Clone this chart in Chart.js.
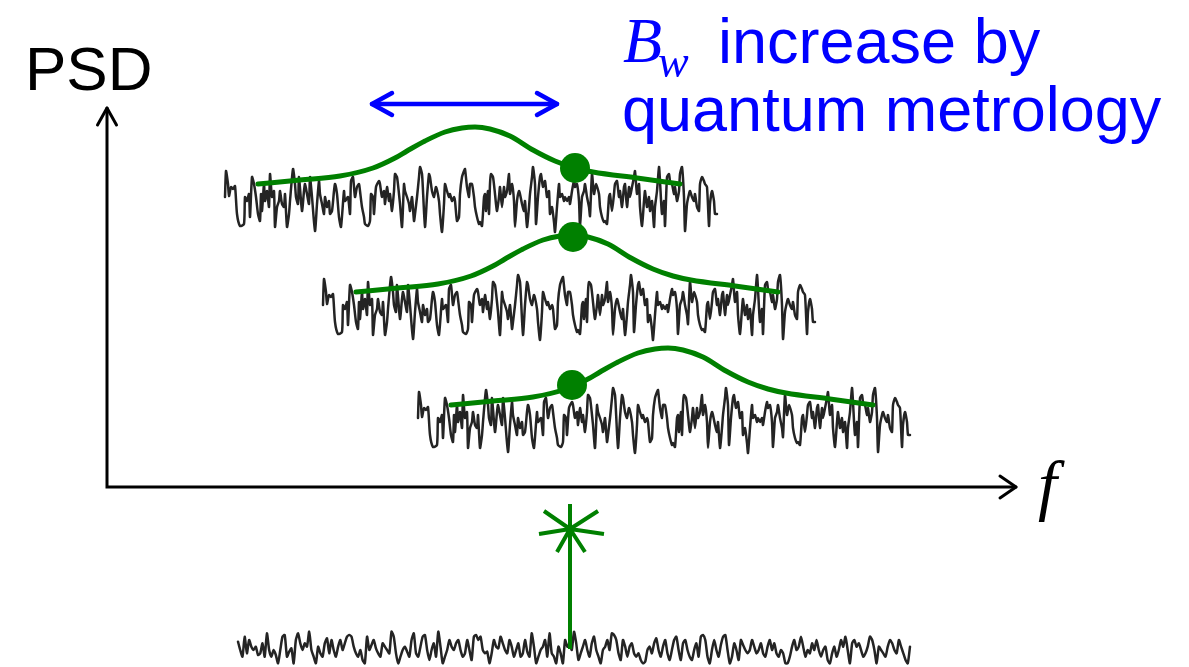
<!DOCTYPE html>
<html><head><meta charset="utf-8">
<script src="https://cdn.jsdelivr.net/npm/chart.js@4/dist/chart.umd.min.js"></script>
<style>html,body{margin:0;padding:0;background:#fff;overflow:hidden}canvas{display:block}</style>
</head><body>
<canvas id="c" width="1189" height="667"></canvas>
<script>
// ---- data (frequency f and PSD in schematic units) ----
// noise shape of one spectrum: [offset along f (x0.01), height (x0.01)]
const noiseShape = [
[1,37],[2,63],[4,50],[5,38],[7,47],[9,45],[11,48],[13,20],[16,8],[20,10],[21,37],[23,33],[25,40],[26,17],[28,57],[30,50],[32,37],[34,20],[36,13],[37,40],[38,23],[40,50],[41,33],[43,43],[45,27],[46,60],[48,37],[50,43],[51,7],[53,27],[55,33],[56,43],[58,30],[60,27],[61,40],[63,7],[65,20],[66,33],[69,65],[71,50],[72,37],[74,30],[75,57],[78,23],[80,43],[81,50],[83,40],[85,30],[86,57],[88,37],[91,3],[93,30],[95,53],[96,40],[98,30],[100,20],[101,37],[103,27],[105,33],[106,20],[108,23],[110,43],[111,50],[113,40],[115,17],[117,7],[120,43],[121,33],
[124,37],[126,20],[127,53],[129,57],[131,37],[133,47],[135,50],[136,43],[138,27],[140,17],
[141,10],[144,8],[146,13],[147,40],[149,37],[150,20],[152,47],[155,53],[156,50],[158,37],
[160,43],[161,30],[163,47],[165,33],[166,40],[168,23],[170,43],[171,60],[173,57],[175,40],
[176,30],[178,7],[180,50],[181,43],[183,37],[185,30],[186,23],[188,37],[190,13],[191,20],
[193,37],[195,57],[196,67],[198,60],[199,43],[201,7],[203,37],[205,60],[206,57],[208,43],
[210,37],[212,47],[215,33],[216,20],[218,2],[220,30],[221,50],[223,43],[225,37],[226,40],
[228,33],[230,37],[231,33],[233,13],[235,17],[236,40],[238,57],[240,63],[241,65],[243,47],
[245,37],[246,50],
[248,50],[250,37],[251,27],[253,17],[255,10],[256,12],[258,8],[260,37],[261,40],[262,23],
[264,43],[265,20],[266,50],[267,60],[269,57],[271,40],[272,30],[273,23],[275,37],[276,47],
[278,27],[280,47],[281,37],[283,43],[285,60],[286,40],[288,50],[290,33],[291,7],[293,33],
[295,43],[296,40],[298,30],[300,23],[301,33],[303,7],[305,27],[306,40],[308,57],[309,67],
[311,50],[312,10],[314,37],[316,57],[317,60],[319,47],[321,53],[323,37],[325,43],[326,20],
[328,27],[330,12],[331,2],[333,27],[335,50],[336,37],[338,40],[340,33],[341,37],[343,33],
[345,37],[346,30],[348,43],[350,53],[351,47],[353,50],[355,33],[356,8],[358,37],[360,43],
[361,50],[363,37],[365,27],[366,18],[368,60],[370,40],[372,50],
[375,40],[376,27],[378,17],[380,12],[381,13],[383,10],[385,37],[386,40],[388,23],
[390,40],[391,50],[393,53],[395,37],[396,43],[398,27],[400,47],[401,50],[403,27],[405,47],
[406,37],[408,47],[410,57],[411,63],[413,40],[415,50],[416,27],[418,8],[420,33],[421,43],
[423,27],[425,37],[426,23],[428,33],[430,7],[431,27],[433,43],[435,67],[436,53],[438,20],
[440,33],[441,8],[443,57],[445,60],[446,53],[448,50],[450,40],[451,47],[453,33],[455,43],
[456,60],[458,67],[460,37],[461,3],[463,30],[465,40],[466,43],[468,37],[470,33],[471,40],
[473,27],[475,23],[476,50],[478,57],[480,53],[481,50],[483,47],[485,8],[486,30],[488,43],
[490,33],[491,20],[493,20]
];
// bottom (shot-noise) trace: depth below its top level (x 1/300), uniform in f
const bottomNoise = [
65,90,110,50,100,60,80,90,80,105,100,70,110,40,90,110,90,105,130,90,
50,45,110,95,85,130,60,40,70,90,70,80,35,90,110,130,80,100,110,70,
55,100,60,90,110,80,60,90,70,50,45,50,80,100,110,90,120,130,50,90,
75,60,85,100,110,70,80,90,100,35,50,100,130,110,90,80,95,110,60,40,
100,110,80,50,45,90,120,90,70,110,35,80,130,110,90,60,80,90,70,60,
90,110,100,60,90,120,50,45,60,50,90,100,95,130,100,60,80,85,50,70,
90,100,60,80,110,90,70,110,100,60,95,110,40,80,130,110,90,80,60,110,
40,100,110,130,80,100,130,
60,80,70,90,35,70,120,100,80,60,90,110,70,50,90,110,130,90,80,60,
90,40,45,60,100,120,60,80,110,80,70,100,110,100,120,130,125,90,80,100,
70,55,90,110,80,60,100,120,90,60,50,90,120,70,60,90,110,120,90,70,
110,50,45,60,110,130,90,60,90,110,75,50,45,90,130,110,70,90,120,60,
75,90,100,90,60,80,100,90,70,100,110,80,60,90,70,100,110,90,100,130,
130,110,80,60,90,80,50,80,110,90,100,70,90,60,90,110,90,80,120,130,
100,80,110,90,60,80,50,90,130,70,60,80,70,90,110,100,80,50,60,90,
130,80,90,100,110,80,60,70,90,100,60,80,100,120,130,80
];
// resonance (signal) line shape of the first spectrum
const peakF   = [1.51,1.93,2.33,2.66,2.88,3.00,3.18,3.38,3.55,3.68,3.83,4.03,4.26,4.48,4.68,4.86,5.30,5.73];
const peakPSD = [3.03,3.07,3.11,3.19,3.29,3.36,3.46,3.55,3.59,3.60,3.58,3.51,3.37,3.26,3.19,3.15,3.09,3.03];
// shifts of the three spectra
const shiftF   = [0, 0.98, 1.93];
const shiftPSD = [0, -1.08, -2.21];
const noiseStartF = 1.17, noiseBasePSD = 2.53;
// probe (signal frequency) points
const probeF   = [4.68, 4.66, 4.65];
const probePSD = [3.19, 2.50, 1.02];
// bottom trace
const bottomStartF = 1.31, bottomEndF = 8.03, bottomTopPSD = -1.33;
// signal star
const starF = 4.63, starPSD = -0.42, stemBottom = -1.62, stemTop = -0.17;
const starArmF   = [-0.26, 0.28, -0.31, 0.34, -0.13, 0.15];
const starArmPSD = [0.18, 0.18, -0.05, -0.05, -0.23, -0.23];
// axes
const fAxisEnd = 9.09, psdAxisEnd = 3.79;
// B_w arrow
const bwArrowF = [2.65, 4.50], bwArrowPSD = 3.83;

const GREEN = '#008000', BLUE = '#0000ff';
const datasets = [];
function line(data, color, width, order, extra) {
  return Object.assign({data, borderColor: color, borderWidth: width, pointRadius: 0,
    fill: false, tension: 0, order, borderJoinStyle: 'round', borderCapStyle: 'round', spanGaps: false}, extra || {});
}
for (let k = 0; k < 3; k++) {
  datasets.push(line(noiseShape.map(p => ({x: noiseStartF + shiftF[k] + p[0] / 100, y: noiseBasePSD + shiftPSD[k] + p[1] / 100})), '#242424', 2.5, 20, {tension: 0.2}));
  datasets.push(line(peakF.map((f, i) => ({x: f + shiftF[k], y: peakPSD[i] + shiftPSD[k]})), GREEN, 5, 5, {cubicInterpolationMode: 'monotone'}));
}
const bstep = (bottomEndF - bottomStartF) / (bottomNoise.length - 1);
datasets.push(line(bottomNoise.map((e, i) => ({x: bottomStartF + i * bstep, y: bottomTopPSD - e / 300})), '#242424', 2.5, 20, {tension: 0.2}));
// star
const star = [{x: starF, y: stemBottom}, {x: starF, y: stemTop}, {x: starF, y: null}];
starArmF.forEach((df, i) => { star.push({x: starF, y: starPSD}, {x: starF + df, y: starPSD + starArmPSD[i]}, {x: starF + df, y: null}); });
datasets.push(line(star, GREEN, 4, 4, {borderCapStyle: 'butt'}));
// axes
datasets.push(line([{x: 0, y: psdAxisEnd}, {x: 0, y: 0}, {x: fAxisEnd, y: 0}], '#000', 3, 8, {borderJoinStyle: 'miter'}));
datasets.push(line([{x: fAxisEnd - 0.16, y: 0.11}, {x: fAxisEnd, y: 0}, {x: fAxisEnd - 0.16, y: -0.11}], '#000', 3, 8));
datasets.push(line([{x: -0.095, y: psdAxisEnd - 0.17}, {x: 0, y: psdAxisEnd}, {x: 0.095, y: psdAxisEnd - 0.17}], '#000', 3, 8));
// B_w arrow
datasets.push(line([{x: bwArrowF[0], y: bwArrowPSD}, {x: bwArrowF[1], y: bwArrowPSD}], BLUE, 4.5, 3));
datasets.push(line([{x: bwArrowF[0] + 0.2, y: bwArrowPSD + 0.11}, {x: bwArrowF[0], y: bwArrowPSD}, {x: bwArrowF[0] + 0.2, y: bwArrowPSD - 0.11}], BLUE, 4.5, 3));
datasets.push(line([{x: bwArrowF[1] - 0.2, y: bwArrowPSD + 0.11}, {x: bwArrowF[1], y: bwArrowPSD}, {x: bwArrowF[1] - 0.2, y: bwArrowPSD - 0.11}], BLUE, 4.5, 3));
// probe dots
datasets.push({type: 'scatter', data: probeF.map((f, i) => ({x: f, y: probePSD[i]})), showLine: false,
  pointRadius: 15, pointBackgroundColor: GREEN, pointBorderColor: GREEN, pointBorderWidth: 0, order: 1});

const textPlugin = {
  id: 'texts',
  beforeDraw(chart) {
    const c = chart.ctx; c.save(); c.fillStyle = '#fff'; c.fillRect(0, 0, chart.width, chart.height); c.restore();
  },
  afterDraw(chart) {
    const c = chart.ctx; c.save();
    c.textBaseline = 'alphabetic'; c.textAlign = 'left';
    c.fillStyle = '#000';
    c.font = '62px "Liberation Sans", Arial, sans-serif';
    c.fillText('PSD', 25, 90);
    c.font = 'italic 68px "Liberation Serif", serif';
    c.fillText('f', 1038, 508);
    c.fillStyle = BLUE;
    c.font = 'italic 64px "Liberation Serif", serif';
    c.fillText('B', 623, 62);
    c.font = 'italic 46px "Liberation Serif", serif';
    c.fillText('w', 658, 77);
    c.font = '63px "Liberation Sans", Arial, sans-serif';
    c.fillText('increase by', 718, 63);
    c.fillText('quantum metrology', 622, 131);
    c.restore();
  }
};

new Chart(document.getElementById('c'), {
  type: 'line',
  data: {datasets},
  options: {
    responsive: false, animation: false, events: [],
    layout: {padding: 0, autoPadding: false},
    plugins: {legend: {display: false}, tooltip: {enabled: false}, title: {display: false}},
    scales: {
      x: {type: 'linear', min: -1.07, max: 10.82, display: false},
      y: {type: 'linear', min: -1.80, max: 4.87, display: false}
    }
  },
  plugins: [textPlugin]
});
</script>
</body></html>
